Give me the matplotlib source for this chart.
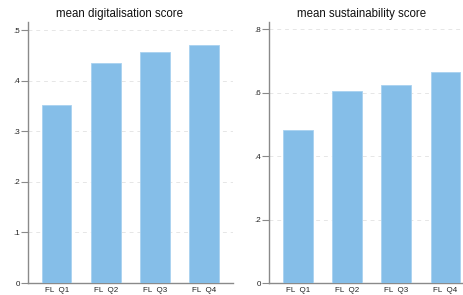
import matplotlib
matplotlib.use("Agg")
import matplotlib.pyplot as plt

categories = ["FL  Q1", "FL  Q2", "FL  Q3", "FL  Q4"]
digital_scores = [0.352, 0.435, 0.457, 0.471]
sustain_scores = [0.484, 0.606, 0.625, 0.664]
digital_ticks = [0, 0.1, 0.2, 0.3, 0.4, 0.5]
digital_labels = ["0", ".1", ".2", ".3", ".4", ".5"]
sustain_ticks = [0, 0.2, 0.4, 0.6, 0.8]
sustain_labels = ["0", ".2", ".4", ".6", ".8"]

W, H = 464, 295
plt.rcParams['font.family'] = ['Liberation Sans', 'DejaVu Sans']
fig = plt.figure(figsize=(W / 100, H / 100), dpi=100)
fig.patch.set_facecolor("white")

BAR = "#85bee8"
AXC = "#8a8a8a"

def panel(left_px, values, ticks, labels, ymax, title, title_cx):
    ax = fig.add_axes([left_px / W, 12 / H, 205 / W, 261 / H])
    x = list(range(len(values)))
    ax.bar(x, values, width=0.6, color=BAR, edgecolor="#a9d2f0", linewidth=0.6, zorder=3)
    ax.set_xlim(-0.585, 3.59)
    ax.set_ylim(0, ymax)
    ax.set_yticks(ticks)
    ax.set_yticklabels(labels)
    ax.set_xticks(x)
    ax.set_xticklabels(categories)
    for t in ticks[1:]:
        ax.axhline(t, color="#e6e6e6", lw=0.7, ls=(0, (4, 4)), zorder=1)
    for s in ["top", "right"]:
        ax.spines[s].set_visible(False)
    for s in ["left", "bottom"]:
        ax.spines[s].set_color(AXC)
        ax.spines[s].set_linewidth(1.0)
    ax.tick_params(axis="y", length=5, width=0.8, color=AXC, labelsize=5.8, pad=1, labelcolor="#222222")
    ax.tick_params(axis="x", length=0, labelsize=5.8, pad=3, labelcolor="#222222")
    fig.text(title_cx / W, 1 - 14 / H, title, ha="center", va="center", fontsize=8.3, color="#111111")
    return ax

panel(28, digital_scores, digital_ticks, digital_labels, 0.516, "mean digitalisation score", 120)
panel(269.3, sustain_scores, sustain_ticks, sustain_labels, 0.823, "mean sustainability score", 362)

fig.savefig("out.png", dpi=100)
